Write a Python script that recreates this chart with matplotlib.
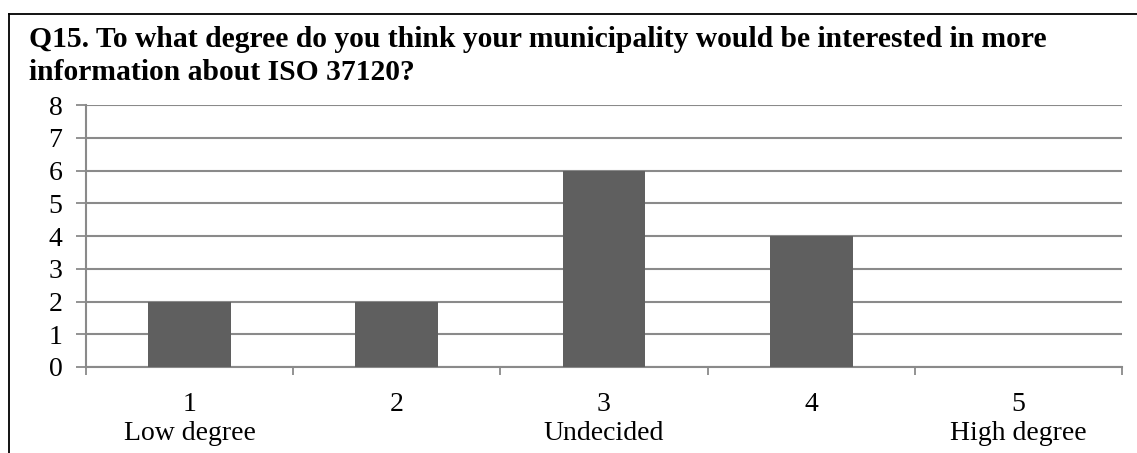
import matplotlib
matplotlib.use("Agg")
import matplotlib.pyplot as plt
from matplotlib.lines import Line2D

categories = ["1\nLow degree", "2", "3\nUndecided", "4", "5\nHigh degree"]
values = [2, 2, 6, 4, 0]
yticks = [0, 1, 2, 3, 4, 5, 6, 7, 8]
title_lines = ["Q15. To what degree do you think your municipality would be interested in more",
               "information about ISO 37120?"]

plt.rcParams['font.family'] = ['Liberation Serif', 'DejaVu Serif']

W, H = 1137, 453
fig = plt.figure(figsize=(W / 100, H / 100), dpi=100)

# frame border (left and top)
fig.add_artist(Line2D([9 / W, 9 / W], [0, 1 - 14 / H], color='black', lw=1.3, transform=fig.transFigure))
fig.add_artist(Line2D([9 / W, 1], [1 - 14 / H, 1 - 14 / H], color='black', lw=1.3, transform=fig.transFigure))

fig.text(29 / W, 1 - 47 / H, title_lines[0], fontsize=21.3, fontweight='bold', ha='left', va='baseline')
fig.text(29 / W, 1 - 80 / H, title_lines[1], fontsize=21.3, fontweight='bold', ha='left', va='baseline')

ax = fig.add_axes([86 / W, 1 - 367 / H, (1122 - 86) / W, (367 - 105) / H])
x = list(range(1, len(values) + 1))
ax.bar(x, values, width=0.4, color='#5f5f5f', zorder=3)

ax.set_xlim(0.5, len(values) + 0.5)
ax.set_ylim(0, 8)
ax.set_yticks(yticks)
ax.set_yticklabels([str(v) for v in yticks])
ax.yaxis.grid(True, color='#8a8a8a', lw=1.5, zorder=0)
ax.set_axisbelow(True)

ax.set_xticks(x)
ax.set_xticklabels(categories, linespacing=1.2)
ax.set_xticks([i + 0.5 for i in range(0, len(values) + 1)], minor=True)
ax.tick_params(axis='x', which='major', length=0, pad=18, labelsize=20)
ax.tick_params(axis='x', which='minor', length=6, width=1.3, color='#8a8a8a')
ax.tick_params(axis='y', length=7, width=1.3, color='#8a8a8a', pad=10, labelsize=20)

for s in ['top', 'right']:
    ax.spines[s].set_visible(False)
for s in ['left', 'bottom']:
    ax.spines[s].set_color('#8a8a8a')
    ax.spines[s].set_linewidth(1.5)

fig.savefig("out.png", dpi=100)
